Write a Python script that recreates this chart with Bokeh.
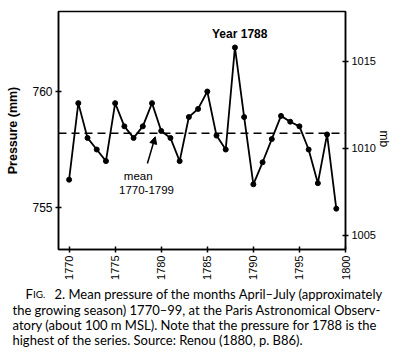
import math
from bokeh.plotting import figure
from bokeh.layouts import column
from bokeh.models import (Range1d, LinearAxis, FixedTicker, Span, Label, Arrow,
                          NormalHead)
from bokeh.embed import file_html
from bokeh.resources import INLINE

# ---- data ----
years = list(range(1770, 1800))
pressure_mm = [756.2, 759.5, 758.0, 757.5, 757.0, 759.5, 758.5, 758.0, 758.5, 759.5,
               758.3, 758.0, 757.0, 758.9, 759.25, 760.0, 758.1, 757.5, 761.9, 758.9,
               756.0, 756.95, 757.95, 758.95, 758.7, 758.5, 757.5, 756.05, 758.15, 754.95]
mean_mm = 758.2
x_ticks = [1770, 1775, 1780, 1785, 1790, 1795, 1800]
mm_ticks = [755, 760]
mb_ticks = [1005, 1010, 1015]
MB_PER_MM = 1.33322

caption_first = "2. Mean pressure of the months April\u2013July (approximately"
caption_lines = [
    "the growing season) 1770\u201399, at the Paris Astronomical Observ-",
    "atory (about 100 m MSL). Note that the pressure for 1788 is the",
    "highest of the series. Source: Renou (1880, p. B86).",
]

TOP_H = 284
y0, y1 = 753.19, 763.45
p = figure(width=403, height=TOP_H, output_backend="svg", toolbar_location=None,
           x_range=Range1d(1768.85, 1800.0), y_range=Range1d(y0, y1),
           min_border_left=58, min_border_right=58, min_border_top=11,
           min_border_bottom=TOP_H - 249, background_fill_color="white",
           border_fill_color="white")
p.grid.visible = False
p.outline_line_color = "black"
p.outline_line_width = 1.5

p.extra_y_ranges = {"mb": Range1d(y0 * MB_PER_MM, y1 * MB_PER_MM)}
p.add_layout(LinearAxis(y_range_name="mb"), "right")

for ax in p.axis:
    ax.axis_line_width = 1.5
    ax.major_tick_line_width = 1.5
    ax.major_tick_in = 3
    ax.major_tick_out = 3
    ax.minor_tick_line_color = None
    ax.major_label_text_font = "Liberation Sans"
    ax.major_label_text_font_size = "12px"
    ax.major_label_text_color = "black"
    ax.major_label_standoff = 3

p.xaxis.ticker = FixedTicker(ticks=x_ticks)
p.xaxis.major_label_orientation = math.pi / 2
p.xaxis.major_label_text_font_size = "11px"

yl = p.yaxis[0]
yl.ticker = FixedTicker(ticks=mm_ticks)
yl.axis_label = "Pressure (mm)"
yl.axis_label_text_font = "Liberation Sans"
yl.axis_label_text_font_style = "bold"
yl.axis_label_text_font_size = "12.5px"
yl.axis_label_text_color = "black"
yl.axis_label_standoff = 9

yr = p.yaxis[1]
yr.ticker = FixedTicker(ticks=mb_ticks)
yr.major_label_text_font_size = "11px"
yr.axis_label = "mb"
yr.axis_label_text_font = "Liberation Sans"
yr.axis_label_text_font_style = "normal"
yr.axis_label_text_font_size = "12px"
yr.axis_label_text_color = "black"
yr.axis_label_standoff = 5
if "axis_label_orientation" in yr.properties():
    yr.axis_label_orientation = -math.pi / 2

p.add_layout(Span(location=mean_mm, dimension="width", line_color="black",
                  line_width=1.5, line_dash="8 5"))

p.line(years, pressure_mm, line_color="black", line_width=1.8)
p.scatter(years, pressure_mm, size=5, color="black")


def lab(fig, **kw):
    kw.setdefault("text_font", "Liberation Sans")
    kw.setdefault("text_color", "black")
    kw.setdefault("text_baseline", "middle")
    fig.add_layout(Label(**kw))


lab(p, x=1788.7, y=762.5, text="Year  1788", text_align="center",
    text_font_style="bold", text_font_size="12px")
lab(p, x=1777.5, y=756.35, text="mean", text_align="center", text_font_size="11.5px")
lab(p, x=1778.4, y=755.75, text="1770-1799", text_align="center", text_font_size="11.5px")
p.add_layout(Arrow(end=NormalHead(size=7, fill_color="black", line_color="black"),
                   x_start=1778.5, y_start=756.9, x_end=1779.35, y_end=758.05,
                   line_width=1.5))

# ---- caption panel ----
CAP_H = 356 - TOP_H
c = figure(width=403, height=CAP_H, output_backend="svg", toolbar_location=None,
           x_range=Range1d(0, 403), y_range=Range1d(CAP_H, 0), min_border=0,
           background_fill_color="white", border_fill_color="white")
c.axis.visible = False
c.grid.visible = False
c.outline_line_color = None
for fig in (p, c):
    if "frame_align" in fig.properties():
        fig.frame_align = False

cap_font = "Lato"
cap_size = "13px"
cy = 293 - TOP_H
lab(c, x=25, y=cy, text="F", text_font=cap_font, text_font_size=cap_size)
lab(c, x=32.5, y=cy + 0.5, text="IG.", text_font=cap_font, text_font_size="10px")
lab(c, x=54, y=cy, text=caption_first, text_font=cap_font, text_font_size=cap_size)
for i, line in enumerate(caption_lines):
    lab(c, x=12, y=cy + 16 + 15.3 * i, text=line, text_font=cap_font,
        text_font_size=cap_size)

open("out.html", "w").write(file_html(column(p, c, spacing=0), INLINE))
